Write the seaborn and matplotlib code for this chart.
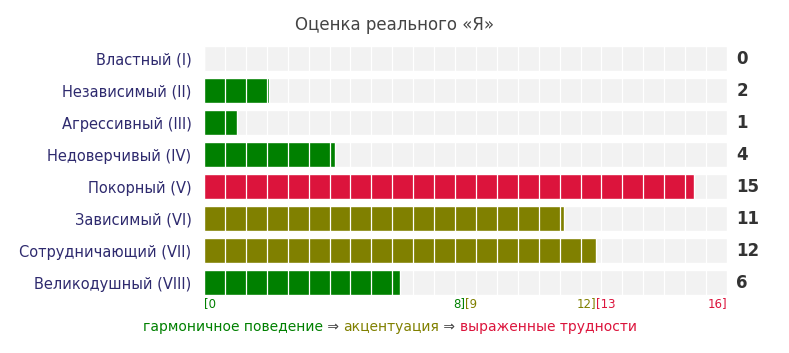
import matplotlib
matplotlib.use("Agg")
import matplotlib.pyplot as plt
import seaborn as sns
import pandas as pd
from matplotlib.offsetbox import TextArea, HPacker, AnnotationBbox

# data
categories = ["Властный (I)", "Независимый (II)", "Агрессивный (III)", "Недоверчивый (IV)",
              "Покорный (V)", "Зависимый (VI)", "Сотрудничающий (VII)", "Великодушный (VIII)"]
scores = [0, 2, 1, 4, 15, 11, 12, 6]
max_score = 16
n_cells = 25

GREEN, OLIVE, RED = "#008000", "#808000", "#dc143c"


def level_color(v):
    if v <= 8:
        return GREEN
    if v <= 12:
        return OLIVE
    return RED


sns.set_theme(style="white")
plt.rcParams["font.family"] = ["DejaVu Sans"]

df = pd.DataFrame({"cat": categories, "score": scores, "full": [max_score] * len(scores)})
palette = {c: level_color(v) for c, v in zip(categories, scores)}

fig = plt.figure(figsize=(7.89, 3.53), dpi=100)
ax = fig.add_axes([204 / 789, 1 - 298.5 / 353, (727 - 204) / 789, 256 / 353])

sns.barplot(data=df, y="cat", x="full", color="#f2f2f2", width=0.78,
            saturation=1, ax=ax, zorder=1)
sns.barplot(data=df, y="cat", x="score", hue="cat", palette=palette, width=0.78,
            saturation=1, legend=False, ax=ax, zorder=2)

# white cell separators
for k in range(1, n_cells):
    ax.axvline(k * max_score / n_cells, color="white", lw=0.9, zorder=3)

ax.set_xlim(0, max_score)
ax.set_ylim(len(categories) - 0.5, -0.5)
ax.set_xlabel("")
ax.set_ylabel("")
ax.set_xticks([])
sns.despine(ax=ax, left=True, bottom=True)
ax.tick_params(axis="y", length=0, pad=9, labelsize=10.5, labelcolor="#2e2a6e")

# value labels
for i, v in enumerate(scores):
    ax.text(1.018, i, str(v), transform=ax.get_yaxis_transform(), ha="left", va="center",
            fontsize=12, fontweight="bold", color="#333333")

# range labels
trans = ax.get_xaxis_transform()
ry = 0.004
for x, t, ha, c in [(0, "[0", "left", GREEN), (8, "8]", "right", GREEN), (8, "[9", "left", OLIVE),
                    (12, "12]", "right", OLIVE), (12, "[13", "left", RED), (16, "16]", "right", RED)]:
    ax.text(x, ry, t, transform=trans, ha=ha, va="top", fontsize=8.5, color=c)

fig.text(0.5, 1 - 25 / 353, "Оценка реального «Я»", ha="center", va="center",
         fontsize=12, color="#444444")

parts = [("гармоничное поведение", GREEN), (" ⇒ ", "#444444"), ("акцентуация", OLIVE),
         (" ⇒ ", "#444444"), ("выраженные трудности", RED)]
boxes = [TextArea(t, textprops=dict(color=c, fontsize=10)) for t, c in parts]
pack = HPacker(children=boxes, pad=0, sep=0, align="baseline")
ab = AnnotationBbox(pack, (390 / 789, 1 - 327 / 353), xycoords="figure fraction",
                    frameon=False, box_alignment=(0.5, 0.5), pad=0)
fig.add_artist(ab)

fig.savefig("out.png", dpi=100)
